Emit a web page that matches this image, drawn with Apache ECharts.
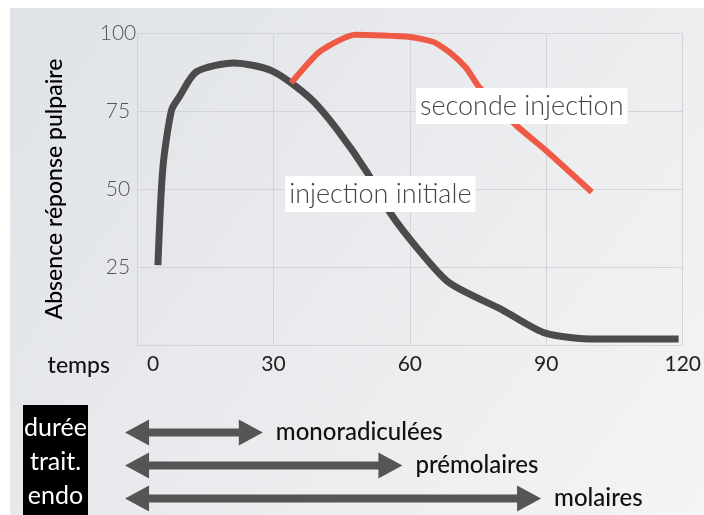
<!DOCTYPE html>
<html>
<head>
<meta charset="utf-8">
<script src="https://cdn.jsdelivr.net/npm/echarts@6/dist/echarts.min.js"></script>
<style>
html,body{margin:0;padding:0;background:#fff;}
#c{width:704px;height:515px;}
</style>
</head>
<body>
<div id="c"></div>
<script>
// ---- data ----
const xTicks = [0, 30, 60, 90, 120];
const yTicks = [25, 50, 75, 100];
const initialX = [4.6, 5.7, 7.6, 9.3, 13, 21.3, 29.8, 38, 44.1, 50.7, 55.7, 62, 68.7, 80.4, 89.8, 100.7, 119.1];
const initialY = [25.6, 57, 75.3, 79.5, 87.5, 90.4, 87.8, 79.2, 68.9, 55.1, 42.3, 30.4, 19.9, 11.2, 3.8, 1.9, 1.9];
const secondX = [33.9, 39.8, 44.1, 48, 60, 65.2, 68.7, 72.4, 75.2, 83.3, 89.8, 100];
const secondY = [84, 93.6, 97.4, 99.4, 98.7, 97.1, 93.9, 88.8, 82.7, 70.5, 62.5, 49];
const annotText = ['injection initiale', 'seconde injection'];
const annotX = [53.5, 84.6];
const annotY = [48.4, 76.6];
const treatments = ['monoradiculées', 'prémolaires', 'molaires'];
const treatStart = [-2.6, -2.6, -2.6];
const treatEnd = [27.4, 57.8, 88];

const FONT = 'Lato, "Open Sans", sans-serif';
const chart = echarts.init(document.getElementById('c'), null, {renderer: 'canvas'});

const zip = (a, b) => a.map((v, i) => [v, b[i]]);

const option = {
  animation: false,
  backgroundColor: 'transparent',
  graphic: [
    {
      type: 'rect', z: -10, silent: true,
      shape: {x: 10, y: 8, width: 694, height: 507},
      style: {
        fill: new echarts.graphic.LinearGradient(0, 0, 1, 1, [
          {offset: 0, color: '#dfe2e7'},
          {offset: 1, color: '#f4f4f4'}
        ])
      }
    },
    {
      type: 'rect', z: 5,
      shape: {x: 23, y: 405, width: 65, height: 110},
      style: {fill: '#000'}
    },
    {
      type: 'text', z: 6,
      x: 55.5, y: 462,
      style: {
        text: 'durée\ntrait.\nendo',
        fill: '#fff', font: '25px ' + FONT,
        align: 'center', verticalAlign: 'middle', lineHeight: 34
      }
    },
    {
      type: 'text', z: 6,
      x: 110, y: 366,
      style: {
        text: 'temps',
        fill: '#111', font: '500 23px ' + FONT,
        align: 'right', verticalAlign: 'middle'
      }
    }
  ],
  grid: [
    {left: 137, right: 16, top: 33, bottom: 170, containLabel: false},
    {left: 137, right: 16, top: 416, height: 100}
  ],
  xAxis: [
    {
      type: 'value', gridIndex: 0, min: 0, max: 120, interval: 30,
      axisLine: {show: true, lineStyle: {color: '#d3d4d8', width: 1}},
      axisTick: {show: false},
      splitLine: {show: true, lineStyle: {color: '#d3d4d8', width: 1}},
      axisLabel: {
        margin: 9, fontFamily: FONT, fontSize: 21, fontWeight: 'normal', color: '#222',
        formatter: v => v === 0 ? '{z|0}' : String(v),
        rich: {z: {fontFamily: FONT, fontSize: 21, fontWeight: 'normal', color: '#222', padding: [0, 0, 0, 32]}}
      }
    },
    {
      type: 'value', gridIndex: 1, min: 0, max: 120, show: false
    }
  ],
  yAxis: [
    {
      type: 'value', gridIndex: 0, min: 0, max: 100, interval: 25,
      name: 'Absence réponse pulpaire', nameLocation: 'middle', nameGap: 71, nameRotate: 90,
      nameTextStyle: {fontFamily: FONT, fontSize: 23, fontWeight: 500, color: '#000'},
      axisLine: {show: true, lineStyle: {color: '#d3d4d8', width: 1}},
      axisTick: {show: false},
      splitLine: {show: true, lineStyle: {color: '#d3d4d8', width: 1}},
      axisLabel: {
        margin: 19, align: 'center', fontFamily: FONT, fontSize: 21, fontWeight: 300, color: '#555',
        formatter: v => yTicks.indexOf(v) >= 0 ? String(v) : ''
      }
    },
    {
      type: 'category', gridIndex: 1, data: treatments, inverse: true, show: false
    }
  ],
  series: [
    {
      name: 'injection initiale', type: 'line', xAxisIndex: 0, yAxisIndex: 0,
      data: zip(initialX, initialY), showSymbol: false, smooth: 0.25, z: 2,
      lineStyle: {color: '#4b4b4b', width: 7, cap: 'butt', join: 'round'}
    },
    {
      name: 'seconde injection', type: 'line', xAxisIndex: 0, yAxisIndex: 0,
      data: zip(secondX, secondY), showSymbol: false, smooth: 0.2, z: 2,
      lineStyle: {color: '#ee5a45', width: 6, cap: 'butt', join: 'round'}
    },
    {
      type: 'scatter', xAxisIndex: 0, yAxisIndex: 0, z: 10, symbolSize: 0,
      itemStyle: {opacity: 1},
      data: annotText.map((t, i) => ({value: [annotX[i], annotY[i]], name: t})),
      label: {
        show: true, position: 'inside', formatter: p => p.name, opacity: 1,
        fontFamily: FONT, fontSize: 27, fontWeight: 300, color: '#444',
        backgroundColor: '#ffffff', padding: [4, 4, 5, 4]
      }
    },
    {
      type: 'custom', xAxisIndex: 1, yAxisIndex: 1, clip: false, z: 5,
      data: treatments.map((t, i) => [treatStart[i], treatEnd[i], i]),
      renderItem: function (params, api) {
        const p1 = api.coord([api.value(0), api.value(2)]);
        const p2 = api.coord([api.value(1), api.value(2)]);
        const x1 = p1[0], x2 = p2[0], y = p1[1];
        const hl = 24, hh = 13, sh = 4;
        return {
          type: 'group',
          children: [
            {
              type: 'polygon',
              shape: {points: [
                [x1, y], [x1 + hl, y - hh], [x1 + hl, y - sh], [x2 - hl, y - sh], [x2 - hl, y - hh],
                [x2, y], [x2 - hl, y + hh], [x2 - hl, y + sh], [x1 + hl, y + sh], [x1 + hl, y + hh]
              ]},
              style: {fill: '#555'}
            },
            {
              type: 'text', x: x2 + 13, y: y,
              style: {
                text: treatments[api.value(2)], fill: '#111',
                font: '500 24px ' + FONT, align: 'left', verticalAlign: 'middle'
              }
            }
          ]
        };
      }
    }
  ]
};
chart.setOption(option);
</script>
</body>
</html>
